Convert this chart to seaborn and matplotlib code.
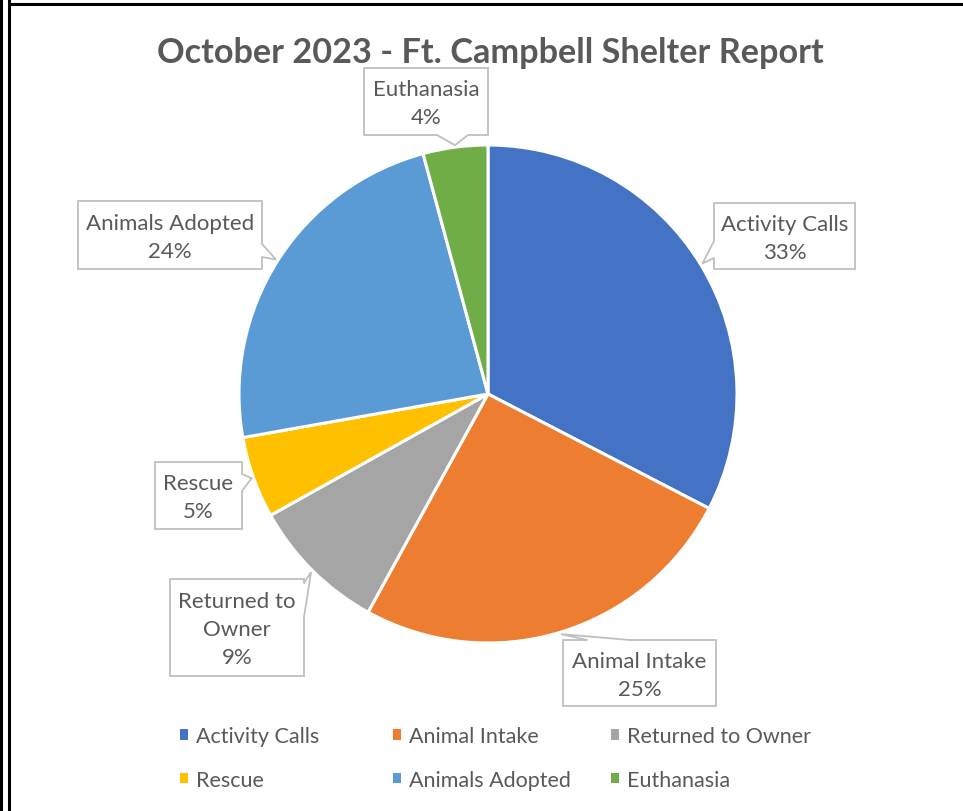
"""Pie chart of the October 2023 Ft. Campbell shelter report."""

import numpy as np
import matplotlib
matplotlib.use('Agg')
import matplotlib.pyplot as plt
import seaborn as sns
from matplotlib.patches import Rectangle, Polygon, Patch
from matplotlib.lines import Line2D

# data
categories = ["Activity Calls", "Animal Intake", "Returned to Owner",
              "Rescue", "Animals Adopted", "Euthanasia"]
label_names = ["Activity Calls", "Animal Intake", "Returned to\nOwner",
               "Rescue", "Animals Adopted", "Euthanasia"]
shares = [32.6, 25.4, 8.9, 5.3, 23.6, 4.2]
colors = ["#4472C4", "#ED7D31", "#A5A5A5", "#FFC000", "#5B9BD5", "#70AD47"]

W, H = 963, 812
TEXT = "#595959"
BOX_EDGE = "#BFBFBF"
CX, CY, R = 488, 395, 249

# callout boxes (image pixels, y down): x0, y0, x1, y1
boxes = [
    (714, 204, 855, 270),
    (563, 641, 716, 707),
    (170, 580, 304, 677),
    (155, 463, 242, 530),
    (78, 202, 262, 270),
    (364, 69, 488, 136),
]
# where each pointer leaves its box
bases = [
    ((714, 242), (714, 259)),
    ((587, 641), (630, 641)),
    ((304, 584), (304, 618)),
    ((242, 475), (242, 492)),
    ((262, 245), (262, 258)),
    ((437, 136), (468, 136)),
]

sns.set_theme(style="white")
plt.rcParams['font.family'] = ['Lato', 'DejaVu Sans']

fig = plt.figure(figsize=(W / 100, H / 100), dpi=100, facecolor='white')
ax = fig.add_axes([0, 0, 1, 1])

wedges, _ = ax.pie(
    shares, colors=colors, startangle=90, counterclock=False,
    radius=R, center=(CX, H - CY),
    wedgeprops=dict(edgecolor='white', linewidth=2.2),
)
ax.set_xlim(0, W)
ax.set_ylim(0, H)
ax.set_aspect('equal')
ax.axis('off')


def draw_callout(box, base, tip, text):
    x0, y0, x1, y1 = box
    ax.add_patch(Rectangle((x0, H - y1), x1 - x0, y1 - y0, facecolor='white',
                           edgecolor=BOX_EDGE, linewidth=1.3, zorder=3))
    (bx0, by0), (bx1, by1) = base
    mx, my = (x0 + x1) / 2, (y0 + y1) / 2
    # nudge the base inward so the fill hides the box edge under the pointer
    if bx0 == bx1:
        dx, dy = 2 * np.sign(mx - bx0), 0
    else:
        dx, dy = 0, 2 * np.sign(my - by0)
    pts = [(bx0 + dx, H - (by0 + dy)), (bx0, H - by0), tip,
           (bx1, H - by1), (bx1 + dx, H - (by1 + dy))]
    ax.add_patch(Polygon(pts, closed=True, facecolor='white', edgecolor='none', zorder=4))
    ax.plot([bx0, tip[0], bx1], [H - by0, tip[1], H - by1],
            color=BOX_EDGE, linewidth=1.3, zorder=4, solid_joinstyle='miter')
    ax.text(mx, H - my - 2, text, ha='center', va='center', fontsize=16,
            color=TEXT, linespacing=1.5, zorder=5)


total = sum(shares)
for w, name, v, box, base in zip(wedges, label_names, shares, boxes, bases):
    mid = np.deg2rad((w.theta1 + w.theta2) / 2)
    tip = (CX + (R + 2) * np.cos(mid), H - CY + (R + 2) * np.sin(mid))
    draw_callout(box, base, tip, f"{name}\n{round(v / total * 100):.0f}%")

ax.text(490, H - 53, "October 2023 - Ft. Campbell Shelter Report",
        ha='center', va='center', fontsize=24.7, fontweight='bold', color=TEXT)

# legend: three columns of two rows, like the spreadsheet layout
handles = [Patch(facecolor=c, edgecolor='none') for c in colors]
col_x = [180, 393, 611]
for i, x in enumerate(col_x):
    leg = ax.legend([handles[i], handles[i + 3]], [categories[i], categories[i + 3]],
                    loc='center left', bbox_to_anchor=(x, H - 759),
                    bbox_transform=ax.transData, frameon=False, fontsize=15.5,
                    handlelength=0.38, handleheight=0.38, handletextpad=0.35,
                    labelspacing=1.08, borderpad=0, borderaxespad=0, labelcolor=TEXT)
    if i < len(col_x) - 1:
        ax.add_artist(leg)

# outer frame
for x in (1, 9):
    fig.add_artist(Line2D([x, x], [0, H], transform=None, color='black', linewidth=2.2))
fig.add_artist(Line2D([9, W], [H - 5, H - 5], transform=None, color='black', linewidth=2.2))

fig.savefig('out.png', dpi=100, facecolor='white')
plt.close(fig)
